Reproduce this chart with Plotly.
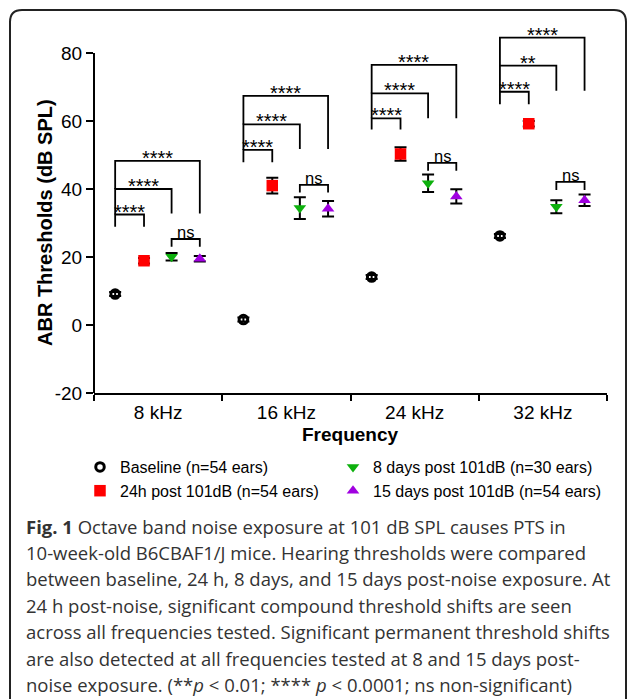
import plotly.graph_objects as go

# ---------------- data ----------------
categories = ["8 kHz", "16 kHz", "24 kHz", "32 kHz"]
y_ticks = [-20, 0, 20, 40, 60, 80]
y_ticktext = ["-20", "0", "20", "40", "60", "80"]

series_names = [
    "Baseline (n=54 ears)",
    "24h post 101dB (n=54 ears)",
    "8 days post 101dB (n=30 ears)",
    "15 days post 101dB (n=54 ears)",
]
baseline = [9.1, 1.6, 14.1, 26.2]
baseline_err = [0.6, 0.6, 0.6, 0.6]
h24 = [18.9, 41.0, 50.3, 59.2]
h24_err = [0.8, 2.3, 2.0, 0.8]
d8 = [20.1, 34.4, 41.7, 34.8]
d8_err = [1.1, 3.2, 2.6, 1.9]
d15 = [19.5, 34.2, 37.8, 36.7]
d15_err = [0.8, 2.3, 2.1, 1.7]

# significance labels (baseline vs 24h / 8d / 15d, and 8d vs 15d)
sig_24h = ["****", "****", "****", "****"]
sig_8d = ["****", "****", "****", "**"]
sig_15d = ["****", "****", "****", "****"]
sig_8v15 = ["ns", "ns", "ns", "ns"]

# bracket heights (dB SPL)
br24_top = [32.5, 51.5, 60.8, 68.6]
br_base = [28.9, 47.9, 57.5, 64.9]
br8_top = [40.0, 59.0, 68.1, 76.3]
br15_top = [48.3, 67.4, 76.5, 84.5]
br_long_leg = [32.8, 51.8, 60.8, 68.9]
ns_top = [25.3, 41.2, 47.7, 42.1]
ns_bottom = [23.0, 39.0, 45.4, 39.7]

# ---------------- layout constants ----------------
W, H = 627, 699
ML, MR, MT, MB = 94, 20, 19, 306
PW = W - ML - MR
PH = H - MT - MB
offsets = [-0.335, -0.11, 0.105, 0.325]
AX_FONT = "Liberation Sans, Arial, sans-serif"
CAP_FONT = "Open Sans, sans-serif"


def px_x(px):
    return (px - ML) / PW


def px_y(py):
    return (H - MB - py) / PH


values = [baseline, h24, d8, d15]
errors = [baseline_err, h24_err, d8_err, d15_err]
markers = [
    dict(symbol="circle-open", size=8.5, color="black", line=dict(width=3, color="black")),
    dict(symbol="square", size=11.5, color="#FF0000"),
    dict(symbol="triangle-down", size=11, color="#0DB00D"),
    dict(symbol="triangle-up", size=11, color="#A000E0"),
]
legend_ids = ["legend", "legend", "legend2", "legend2"]

fig = go.Figure()
for i in range(4):
    xs = [k + 0.5 + offsets[i] for k in range(len(categories))]
    fig.add_trace(go.Scatter(
        x=xs, y=values[i], mode="markers", name=series_names[i],
        marker=markers[i], legend=legend_ids[i],
        error_y=dict(type="data", array=errors[i], visible=True,
                     color="black", thickness=2, width=6),
    ))

shapes = []
annotations = []
LW = 1.8
for k in range(len(categories)):
    xb = k + 0.5 + offsets[0]
    xr = k + 0.5 + offsets[1]
    xg = k + 0.5 + offsets[2]
    xp = k + 0.5 + offsets[3]
    shapes.append(dict(type="path", xref="x", yref="y",
                       path=f"M {xb},{br_base[k]} V {br24_top[k]} H {xr} V {br_base[k]}",
                       line=dict(color="black", width=LW)))
    shapes.append(dict(type="path", xref="x", yref="y",
                       path=f"M {xb},{br24_top[k]} V {br8_top[k]} H {xg} V {br_long_leg[k]}",
                       line=dict(color="black", width=LW)))
    shapes.append(dict(type="path", xref="x", yref="y",
                       path=f"M {xb},{br8_top[k]} V {br15_top[k]} H {xp} V {br_long_leg[k]}",
                       line=dict(color="black", width=LW)))
    shapes.append(dict(type="path", xref="x", yref="y",
                       path=f"M {xg},{ns_bottom[k]} V {ns_top[k]} H {xp} V {ns_bottom[k]}",
                       line=dict(color="black", width=LW)))
    for (x0, x1, yt, lab) in [(xb, xr, br24_top[k], sig_24h[k]),
                              (xb, xg, br8_top[k], sig_8d[k]),
                              (xb, xp, br15_top[k], sig_15d[k])]:
        annotations.append(dict(x=(x0 + x1) / 2, y=yt, xref="x", yref="y",
                                text=lab, showarrow=False, yanchor="middle",
                                yshift=3, font=dict(family=AX_FONT, size=20, color="black")))
    annotations.append(dict(x=(xg + xp) / 2, y=ns_top[k], xref="x", yref="y",
                            text=sig_8v15[k], showarrow=False, yanchor="middle",
                            yshift=7, font=dict(family=AX_FONT, size=16.5, color="black")))

# y-axis line (only from -20 to 80)
shapes.append(dict(type="line", xref="paper", yref="y", x0=0, x1=0,
                   y0=y_ticks[0], y1=y_ticks[-1], line=dict(color="black", width=2)))

# rounded frame
xl, xr_, yt_, yb = px_x(10), px_x(626), px_y(10), px_y(720)
rx, ry = 12 / PW, 12 / PH
shapes.append(dict(type="path", xref="paper", yref="paper",
                   path=(f"M {xl},{yb} L {xl},{yt_ - ry} Q {xl},{yt_} {xl + rx},{yt_} "
                         f"L {xr_ - rx},{yt_} Q {xr_},{yt_} {xr_},{yt_ - ry} L {xr_},{yb}"),
                   line=dict(color="#222", width=2)))

# axis titles
annotations.append(dict(x=px_x(45), y=30, xref="paper", yref="y",
                        text="<b>ABR Thresholds (dB SPL)</b>", textangle=-90,
                        showarrow=False, xanchor="center", yanchor="middle",
                        font=dict(family=AX_FONT, size=20, color="black")))
annotations.append(dict(x=2, y=px_y(434), xref="x", yref="paper",
                        text="<b>Frequency</b>", showarrow=False,
                        xanchor="center", yanchor="middle",
                        font=dict(family=AX_FONT, size=19, color="black")))

# caption
caption_lines = [
    "<b>Fig. 1</b> Octave band noise exposure at 101 dB SPL causes PTS in",
    "10-week-old B6CBAF1/J mice. Hearing thresholds were compared",
    "between baseline, 24 h, 8 days, and 15 days post-noise exposure. At",
    "24 h post-noise, significant compound threshold shifts are seen",
    "across all frequencies tested. Significant permanent threshold shifts",
    "are also detected at all frequencies tested at 8 and 15 days post-",
    "noise exposure. (**<i>p</i> &lt; 0.01; **** <i>p</i> &lt; 0.0001; ns non-significant)",
]
for i, line in enumerate(caption_lines):
    annotations.append(dict(x=px_x(24), y=px_y(526 + 26.4 * i), xref="paper", yref="paper",
                            text=line, showarrow=False, xanchor="left", yanchor="middle",
                            align="left",
                            font=dict(family=CAP_FONT, size=18.5, color="#333")))

leg_common = dict(orientation="v", xanchor="left", yanchor="top",
                  font=dict(family=AX_FONT, size=16, color="black"),
                  bgcolor="rgba(0,0,0,0)", borderwidth=0, itemclick=False,
                  tracegroupgap=0)

fig.update_layout(
    width=W, height=H,
    margin=dict(l=ML, r=MR, t=MT, b=MB, pad=0),
    paper_bgcolor="white", plot_bgcolor="white",
    font=dict(family=AX_FONT, color="black"),
    shapes=shapes, annotations=annotations,
    showlegend=True,
    legend=dict(x=px_x(80), y=px_y(450), **leg_common),
    legend2=dict(x=px_x(333), y=px_y(450), **leg_common),
    xaxis=dict(range=[0, 4], showline=True, linecolor="black", linewidth=2,
               showgrid=False, zeroline=False,
               tickmode="array", tickvals=[k + 0.5 for k in range(len(categories))],
               ticktext=categories, ticks="outside", ticklen=1,
               tickcolor="rgba(0,0,0,0)",
               tickfont=dict(family=AX_FONT, size=19, color="black"),
               minor=dict(tickmode="array", tickvals=list(range(len(categories) + 1)),
                          ticks="outside", ticklen=6, tickwidth=2, tickcolor="black")),
    yaxis=dict(range=[-20, 90], showline=False, showgrid=False, zeroline=False,
               tickmode="array", tickvals=y_ticks, ticktext=y_ticktext,
               ticks="outside", ticklen=7,
               tickwidth=2, tickcolor="black",
               tickfont=dict(family=AX_FONT, size=19, color="black")),
)

fig.write_html("out.html")
